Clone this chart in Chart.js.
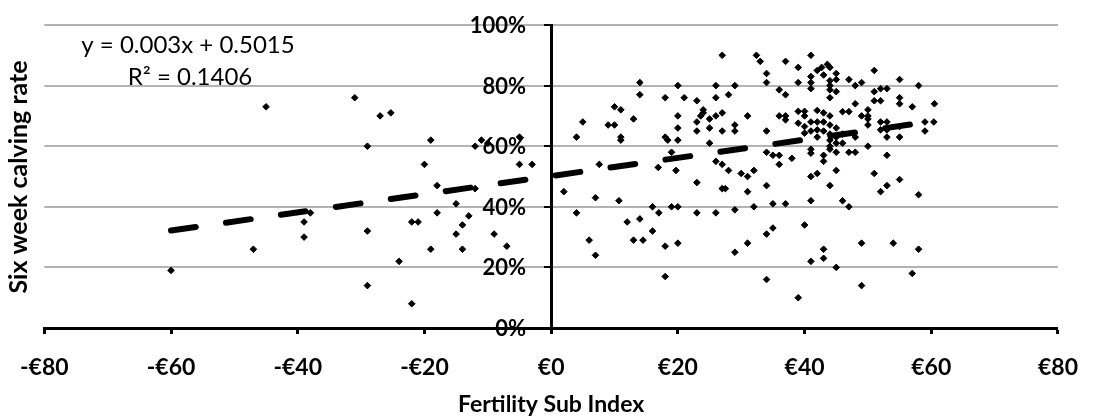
<!DOCTYPE html>
<html><head><meta charset="utf-8">
<script src="https://cdn.jsdelivr.net/npm/chart.js@4.4.1/dist/chart.umd.min.js"></script>
<style>html,body{margin:0;padding:0;background:#fff}#wrap{width:1098px;height:416px;position:relative}</style>
</head><body><div id="wrap"><canvas id="c"></canvas></div>
<script>
const xTickValues = [-80, -60, -40, -20, 0, 20, 40, 60, 80];
const yTickValues = [0, 20, 40, 60, 80, 100];
const xTitle = 'Fertility Sub Index';
const yTitle = 'Six week calving rate';
const equationLines = ['y = 0.003x + 0.5015', 'R\u00B2 = 0.1406'];

const fertilityIndex = [
  -60,-47,-45,-39,-39,-38,-31,-29,-29,-29,-27,-25.3,-24,-22,-21,-22,-20,-19,-19,-18,-18,-15,-15,-14,-14,-13,-12,-12,-11,-10,-9,-7,-5,-5,-3,
  2,4,5,4,6,7,7,7.6,9,10,10,11,11,11,10.7,
  12,13,14,14,14,13,14.5,16,17,16,18,18,18,18,18.4,19,20,20,20,20,20,20,21,19,16.9,19.7,
  23,24,23.6,23,23,24,25,26,25,25,26,26,27,28,29,27,27,29,29,31,23,23,26,29,26,27,28,30,31,32,27,27.5,31,32,29,31,
  32.4,33,34,34,37,36,37,39,39,34,34,36,37,37,35,36,36,38,39,40,40,39,40,40,34,35,37,35,34,34,39,40,
  41,41,41,41,42,42.7,43.6,44,43,44,44,44,44,45,45,45,41,41,42,42,42,43,42,43,44,44,43,44,45,45,46,44,45,46,47,41,41,43,43,44,44,45,46,41,42,44,45,41,46,47,41,43,43,45,
  47,48,49,51,51,52,53,55,58,55,55,57,60.5,51,52,48,49,50,50,50,50,52,53,52,53,55,53,55,59,59,60.4,48,47,48,50,53,51,53,52,55,58,49,54,58,57,49
];
const calvingRate = [
  19,26,73,35,30,38,76,60,32,14,70,71,22,35,35,8,54,62,26,47,38,41,31,34,26,37,60,46,62,61,31,27,63,54,54,
  45,63,68,38,29,24,43,54,67,67,73,72,63,62,42,
  35,69,81,77,36,29,29,40,38,32,27,17,76,63,62,40,40,28,80,70,66,62,76,58,53,52,
  75,72,70,68,65,71,69,70,66,61,80,76,71,77,80,90,65,67,65,70,48,38,38,39,55,54,52,51,50,52,46,46,45,40,25,28,
  90,88,84,81,88,78.6,77,86,81,65,58,70,70,68.7,57,57,54,56,71.5,71.5,70,67.6,66.5,64.3,47,41,41,33,31,16,10,34,
  90,83,81,79,85,86,87,86,83.5,81.6,80,78.6,76,84,82,78,68,65,65.4,63,71.8,71,68,68,70,67,65,64,66,63,64,62,61,71.4,71.4,59,57.7,57,55,60,59,58,61,50,51,47,52,42,42,40,22,23,26,20,
  82,80,81,85,78,79,79,82,80,76,74,73,74,75,75,74,70,72,70,69,67,68,68,65.4,65.4,66.5,63,63,68,65,68,63,58,58,60,57,51,47,45,49,44,28,28,26,18,14
];
const trendX = [-60, 60.8];
const trendY = [32.15, 68.39];

const points = fertilityIndex.map((x, i) => ({x: x, y: calvingRate[i]}));
const trendPoints = trendX.map((x, i) => ({x: x, y: trendY[i]}));

const FONT = 'Lato';
const textPlugin = {
  id: 'extraText',
  beforeDatasetsDraw(chart) {
    // y tick labels, left of the y axis that crosses at x = 0
    const ctx = chart.ctx;
    const xs = chart.scales.x, ys = chart.scales.y;
    const ax = xs.getPixelForValue(0);
    ctx.save();
    ctx.fillStyle = '#000';
    ctx.textAlign = 'right';
    ctx.textBaseline = 'middle';
    ctx.font = 'bold 22px ' + FONT;
    yTickValues.forEach(v => ctx.fillText(v + '%', ax - 25, ys.getPixelForValue(v) + 1));
    ctx.restore();
  },
  afterDraw(chart) {
    const ctx = chart.ctx;
    ctx.save();
    ctx.fillStyle = '#000';
    ctx.textAlign = 'center';
    ctx.textBaseline = 'middle';
    ctx.font = '24px ' + FONT;
    ctx.fillText(equationLines[0], 188, 45);
    ctx.fillText(equationLines[1], 190, 77);
    ctx.translate(19, 177);
    ctx.rotate(-Math.PI / 2);
    ctx.font = 'bold 25px ' + FONT;
    ctx.fillText(yTitle, 0, 0);
    ctx.restore();
  }
};

new Chart(document.getElementById('c'), {
  type: 'scatter',
  data: {
    datasets: [
      {
        type: 'line',
        data: trendPoints,
        borderColor: '#000',
        borderWidth: 6,
        borderDash: [25, 30.5],
        borderCapStyle: 'round',
        pointRadius: 0,
        fill: false,
        tension: 0
      },
      {
        data: points,
        pointStyle: 'rectRot',
        pointRadius: 3.3,
        pointBackgroundColor: '#000',
        pointBorderColor: '#000',
        pointBorderWidth: 1
      }
    ]
  },
  options: {
    responsive: true,
    maintainAspectRatio: false,
    animation: false,
    events: [],
    layout: { padding: { left: 42, right: 24, top: 25, bottom: 0 } },
    plugins: { legend: { display: false }, tooltip: { enabled: false } },
    scales: {
      x: {
        type: 'linear', min: -80, max: 80,
        afterBuildTicks: s => { s.ticks = xTickValues.map(v => ({ value: v })); },
        afterFit: s => { s.height = 88; },
        ticks: {
          callback: v => (v < 0 ? '-\u20AC' : '\u20AC') + Math.abs(v),
          font: { family: FONT, size: 23, weight: 'bold' }, color: '#000',
          padding: 20, maxRotation: 0, autoSkip: false
        },
        grid: { drawOnChartArea: false, drawTicks: true, tickLength: 6, tickColor: '#000', tickWidth: 3 },
        border: { display: true, color: '#000', width: 3, z: 1 },
        title: { display: true, text: xTitle, font: { family: FONT, size: 23, weight: 'bold', lineHeight: 1 }, color: '#000', padding: { top: 0, bottom: 0 } }
      },
      y: {
        type: 'linear', min: 0, max: 100,
        position: { x: 0 },
        afterBuildTicks: s => { s.ticks = yTickValues.map(v => ({ value: v })); },
        ticks: { display: false },
        grid: { color: '#b3b3b3', lineWidth: 2, drawTicks: true, tickLength: 6, tickColor: '#000', tickWidth: 2 },
        border: { display: true, color: '#000', width: 3 }
      }
    }
  },
  plugins: [textPlugin]
});
</script>
</body></html>
